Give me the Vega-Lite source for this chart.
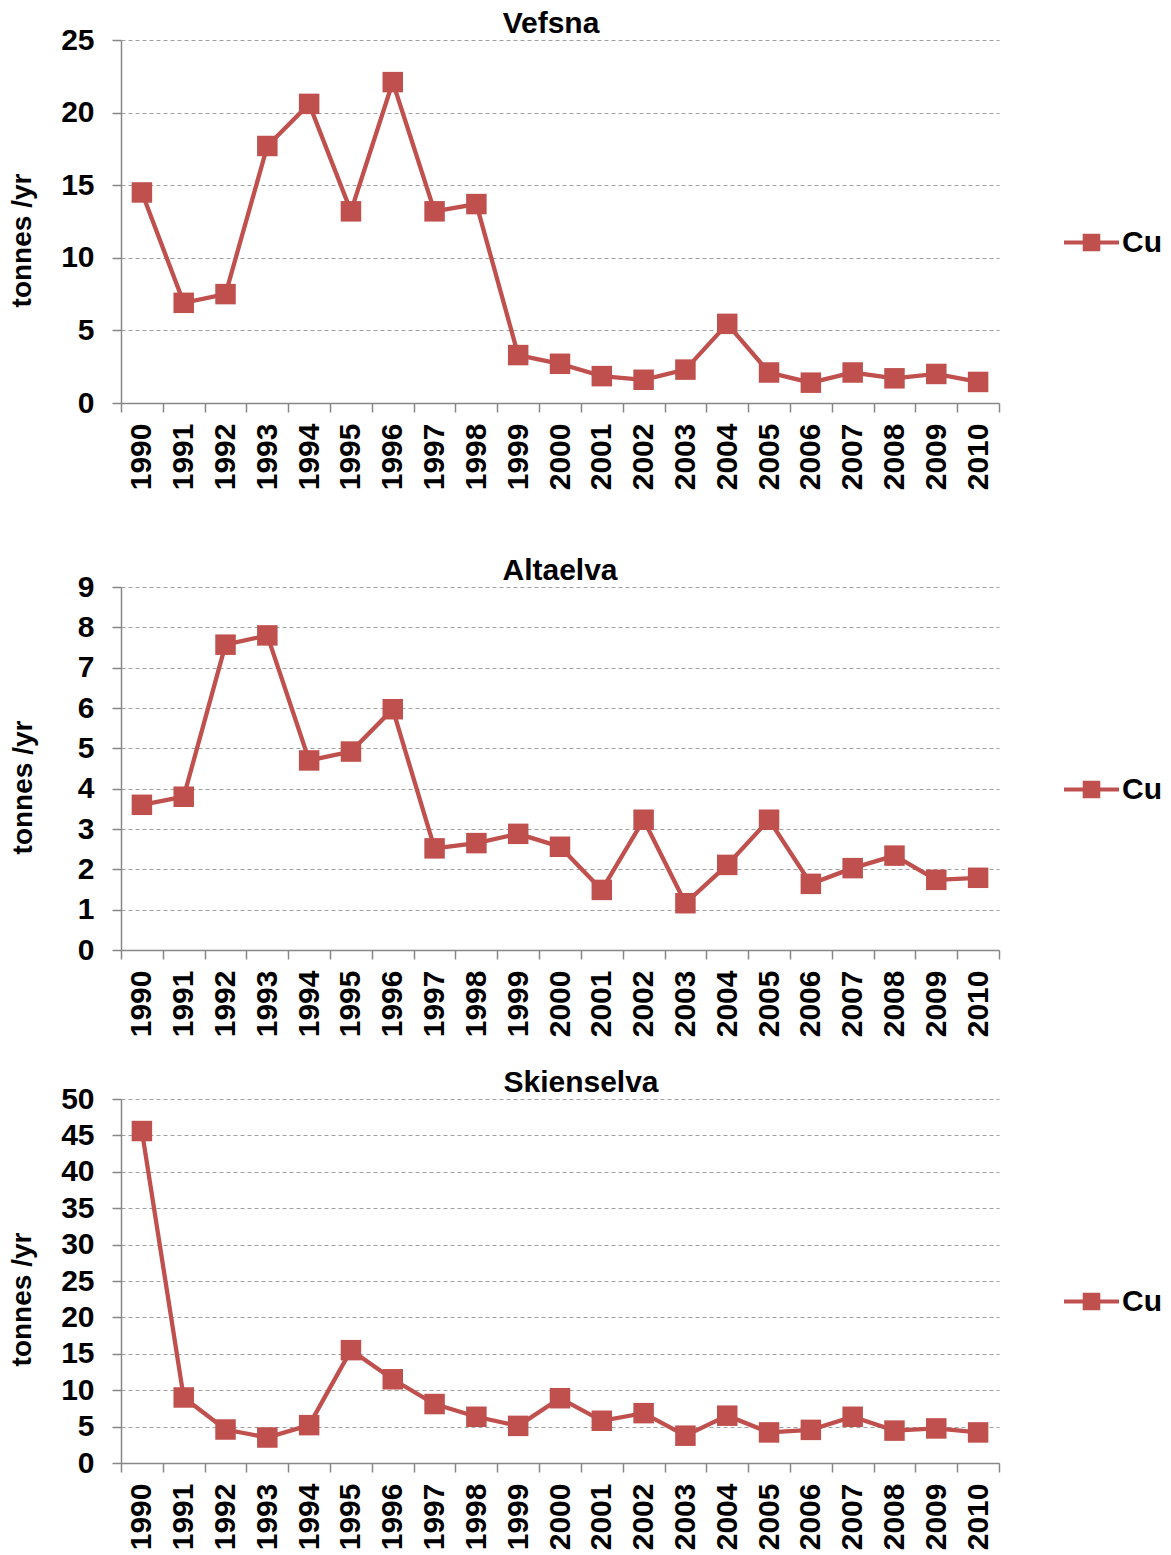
{
  "$schema": "https://vega.github.io/schema/vega-lite/v6.json",
  "background": "white",
  "padding": {"left": 8, "top": 9, "right": 5, "bottom": 0},
  "config": {
    "view": {"stroke": null},
    "font": "Liberation Sans",
    "axis": {
      "labelFont": "Liberation Sans",
      "labelFontSize": 30,
      "labelFontWeight": "bold",
      "labelColor": "#000000",
      "titleFont": "Liberation Sans",
      "titleColor": "#000000",
      "domainColor": "#878787",
      "domainWidth": 1.5,
      "tickColor": "#878787",
      "tickWidth": 1.5,
      "tickSize": 9
    },
    "axisX": {"grid": false, "labelAngle": -90, "tickBand": "extent", "labelPadding": 11},
    "axisY": {"grid": true, "gridColor": "#A0A0A0", "gridDash": [4, 3], "gridWidth": 1, "labelPadding": 18, "titleFontSize": 28, "titleFontWeight": "bold", "titleY": 200},
    "title": {"font": "Liberation Sans", "fontSize": 30, "fontWeight": "bold", "color": "#000000", "anchor": "middle", "baseline": "alphabetic", "offset": -14},
    "legend": {"labelFont": "Liberation Sans", "labelFontSize": 30, "labelFontWeight": "bold", "labelColor": "#000000"}
  },
  "data": {
    "values": [
      {"river": "Vefsna", "metal": "Cu", "year": "1990", "value": 14.5},
      {"river": "Vefsna", "metal": "Cu", "year": "1991", "value": 6.9},
      {"river": "Vefsna", "metal": "Cu", "year": "1992", "value": 7.5},
      {"river": "Vefsna", "metal": "Cu", "year": "1993", "value": 17.7},
      {"river": "Vefsna", "metal": "Cu", "year": "1994", "value": 20.6},
      {"river": "Vefsna", "metal": "Cu", "year": "1995", "value": 13.2},
      {"river": "Vefsna", "metal": "Cu", "year": "1996", "value": 22.1},
      {"river": "Vefsna", "metal": "Cu", "year": "1997", "value": 13.2},
      {"river": "Vefsna", "metal": "Cu", "year": "1998", "value": 13.7},
      {"river": "Vefsna", "metal": "Cu", "year": "1999", "value": 3.3},
      {"river": "Vefsna", "metal": "Cu", "year": "2000", "value": 2.7},
      {"river": "Vefsna", "metal": "Cu", "year": "2001", "value": 1.85},
      {"river": "Vefsna", "metal": "Cu", "year": "2002", "value": 1.6},
      {"river": "Vefsna", "metal": "Cu", "year": "2003", "value": 2.3},
      {"river": "Vefsna", "metal": "Cu", "year": "2004", "value": 5.45},
      {"river": "Vefsna", "metal": "Cu", "year": "2005", "value": 2.1},
      {"river": "Vefsna", "metal": "Cu", "year": "2006", "value": 1.4},
      {"river": "Vefsna", "metal": "Cu", "year": "2007", "value": 2.1},
      {"river": "Vefsna", "metal": "Cu", "year": "2008", "value": 1.7},
      {"river": "Vefsna", "metal": "Cu", "year": "2009", "value": 2.0},
      {"river": "Vefsna", "metal": "Cu", "year": "2010", "value": 1.45},
      {"river": "Altaelva", "metal": "Cu", "year": "1990", "value": 3.6},
      {"river": "Altaelva", "metal": "Cu", "year": "1991", "value": 3.8},
      {"river": "Altaelva", "metal": "Cu", "year": "1992", "value": 7.57},
      {"river": "Altaelva", "metal": "Cu", "year": "1993", "value": 7.8},
      {"river": "Altaelva", "metal": "Cu", "year": "1994", "value": 4.7},
      {"river": "Altaelva", "metal": "Cu", "year": "1995", "value": 4.92},
      {"river": "Altaelva", "metal": "Cu", "year": "1996", "value": 5.97},
      {"river": "Altaelva", "metal": "Cu", "year": "1997", "value": 2.52},
      {"river": "Altaelva", "metal": "Cu", "year": "1998", "value": 2.65},
      {"river": "Altaelva", "metal": "Cu", "year": "1999", "value": 2.88},
      {"river": "Altaelva", "metal": "Cu", "year": "2000", "value": 2.56},
      {"river": "Altaelva", "metal": "Cu", "year": "2001", "value": 1.49},
      {"river": "Altaelva", "metal": "Cu", "year": "2002", "value": 3.23},
      {"river": "Altaelva", "metal": "Cu", "year": "2003", "value": 1.16},
      {"river": "Altaelva", "metal": "Cu", "year": "2004", "value": 2.11},
      {"river": "Altaelva", "metal": "Cu", "year": "2005", "value": 3.23},
      {"river": "Altaelva", "metal": "Cu", "year": "2006", "value": 1.64},
      {"river": "Altaelva", "metal": "Cu", "year": "2007", "value": 2.03},
      {"river": "Altaelva", "metal": "Cu", "year": "2008", "value": 2.34},
      {"river": "Altaelva", "metal": "Cu", "year": "2009", "value": 1.74},
      {"river": "Altaelva", "metal": "Cu", "year": "2010", "value": 1.79},
      {"river": "Skienselva", "metal": "Cu", "year": "1990", "value": 45.6},
      {"river": "Skienselva", "metal": "Cu", "year": "1991", "value": 9.0},
      {"river": "Skienselva", "metal": "Cu", "year": "1992", "value": 4.6},
      {"river": "Skienselva", "metal": "Cu", "year": "1993", "value": 3.5},
      {"river": "Skienselva", "metal": "Cu", "year": "1994", "value": 5.2},
      {"river": "Skienselva", "metal": "Cu", "year": "1995", "value": 15.5},
      {"river": "Skienselva", "metal": "Cu", "year": "1996", "value": 11.5},
      {"river": "Skienselva", "metal": "Cu", "year": "1997", "value": 8.1},
      {"river": "Skienselva", "metal": "Cu", "year": "1998", "value": 6.35},
      {"river": "Skienselva", "metal": "Cu", "year": "1999", "value": 5.1},
      {"river": "Skienselva", "metal": "Cu", "year": "2000", "value": 8.9},
      {"river": "Skienselva", "metal": "Cu", "year": "2001", "value": 5.8},
      {"river": "Skienselva", "metal": "Cu", "year": "2002", "value": 6.85},
      {"river": "Skienselva", "metal": "Cu", "year": "2003", "value": 3.75},
      {"river": "Skienselva", "metal": "Cu", "year": "2004", "value": 6.5},
      {"river": "Skienselva", "metal": "Cu", "year": "2005", "value": 4.2},
      {"river": "Skienselva", "metal": "Cu", "year": "2006", "value": 4.55},
      {"river": "Skienselva", "metal": "Cu", "year": "2007", "value": 6.35},
      {"river": "Skienselva", "metal": "Cu", "year": "2008", "value": 4.45},
      {"river": "Skienselva", "metal": "Cu", "year": "2009", "value": 4.75},
      {"river": "Skienselva", "metal": "Cu", "year": "2010", "value": 4.2}
    ]
  },
  "spacing": 31,
  "resolve": {"scale": {"y": "independent", "x": "independent"}, "axis": {"x": "independent", "y": "independent"}, "legend": {"color": "independent"}},
  "vconcat": [
    {
      "title": {"text": "Vefsna", "dx": -9},
      "width": 878,
      "height": 363,
      "transform": [{"filter": "datum.river === 'Vefsna'"}],
      "encoding": {
        "x": {"field": "year", "type": "ordinal", "scale": {"type": "band", "paddingInner": 0, "paddingOuter": 0}, "axis": {"title": " ", "titleFontSize": 10, "titlePadding": 25}},
        "y": {"field": "value", "type": "quantitative", "scale": {"domain": [0, 25], "nice": false}, "axis": {"title": "tonnes /yr", "values": [0, 5, 10, 15, 20, 25], "titlePadding": 24}}
      },
      "layer": [
        {"mark": {"type": "line", "color": "#C0504D", "strokeWidth": 4.3}},
        {
          "mark": {"type": "point", "shape": "square", "filled": true, "size": 420, "opacity": 1},
          "encoding": {
            "color": {"field": "metal", "type": "nominal", "scale": {"range": ["#C0504D"]},
              "legend": {"title": null, "orient": "none", "legendX": 943, "legendY": 175, "symbolType": "M-1,-0.07L1,-0.07L1,0.07L-1,0.07Z M-0.32,-0.32L0.32,-0.32L0.32,0.32L-0.32,0.32Z", "symbolSize": 3025, "symbolStrokeWidth": 0, "symbolOpacity": 1, "labelOffset": 3}}
          }
        }
      ]
    },
    {
      "title": {"text": "Altaelva", "dx": 0},
      "width": 878,
      "height": 363,
      "transform": [{"filter": "datum.river === 'Altaelva'"}],
      "encoding": {
        "x": {"field": "year", "type": "ordinal", "scale": {"type": "band", "paddingInner": 0, "paddingOuter": 0}, "axis": {"title": null}},
        "y": {"field": "value", "type": "quantitative", "scale": {"domain": [0, 9], "nice": false}, "axis": {"title": "tonnes /yr", "values": [0, 1, 2, 3, 4, 5, 6, 7, 8, 9], "titlePadding": 40}}
      },
      "layer": [
        {"mark": {"type": "line", "color": "#C0504D", "strokeWidth": 4.3}},
        {
          "mark": {"type": "point", "shape": "square", "filled": true, "size": 420, "opacity": 1},
          "encoding": {
            "color": {"field": "metal", "type": "nominal", "scale": {"range": ["#C0504D"]},
              "legend": {"title": null, "orient": "none", "legendX": 943, "legendY": 175, "symbolType": "M-1,-0.07L1,-0.07L1,0.07L-1,0.07Z M-0.32,-0.32L0.32,-0.32L0.32,0.32L-0.32,0.32Z", "symbolSize": 3025, "symbolStrokeWidth": 0, "symbolOpacity": 1, "labelOffset": 3}}
          }
        }
      ]
    },
    {
      "title": {"text": "Skienselva", "dx": 21},
      "width": 878,
      "height": 364,
      "transform": [{"filter": "datum.river === 'Skienselva'"}],
      "encoding": {
        "x": {"field": "year", "type": "ordinal", "scale": {"type": "band", "paddingInner": 0, "paddingOuter": 0}, "axis": {"title": null}},
        "y": {"field": "value", "type": "quantitative", "scale": {"domain": [0, 50], "nice": false}, "axis": {"title": "tonnes /yr", "values": [0, 5, 10, 15, 20, 25, 30, 35, 40, 45, 50], "titlePadding": 24}}
      },
      "layer": [
        {"mark": {"type": "line", "color": "#C0504D", "strokeWidth": 4.3}},
        {
          "mark": {"type": "point", "shape": "square", "filled": true, "size": 420, "opacity": 1},
          "encoding": {
            "color": {"field": "metal", "type": "nominal", "scale": {"range": ["#C0504D"]},
              "legend": {"title": null, "orient": "none", "legendX": 943, "legendY": 175, "symbolType": "M-1,-0.07L1,-0.07L1,0.07L-1,0.07Z M-0.32,-0.32L0.32,-0.32L0.32,0.32L-0.32,0.32Z", "symbolSize": 3025, "symbolStrokeWidth": 0, "symbolOpacity": 1, "labelOffset": 3}}
          }
        }
      ]
    }
  ]
}
